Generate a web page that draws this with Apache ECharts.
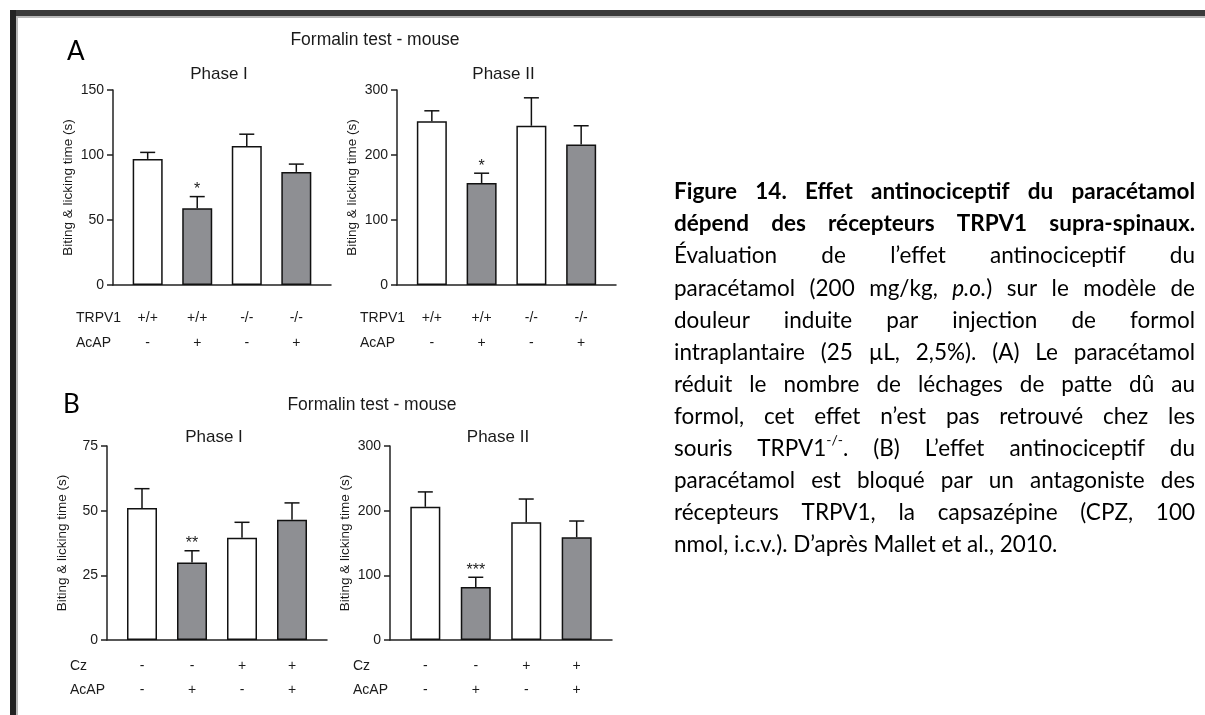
<!DOCTYPE html>
<html>
<head>
<meta charset="utf-8">
<script src="https://cdn.jsdelivr.net/npm/echarts@6/dist/echarts.min.js"></script>
<style>
  html, body { margin: 0; padding: 0; background: #fff; }
  #main { width: 1205px; height: 715px; }
</style>
</head>
<body>
<div id="main"></div>
<script>
// bar positions on the x axis (one per group)
const groups = [1, 2, 3, 4]

// A : TRPV1 +/+ and -/- mice
const aPhase1Mean = [97, 59, 107, 87]
const aPhase1Sem = [5, 9, 9, 6]
const aPhase1Stars = ['', '*', '', '']
const aPhase2Mean = [252, 157, 245, 216]
const aPhase2Sem = [16, 15, 43, 29]
const aPhase2Stars = ['', '*', '', '']
const trpv1Row = ['+/+', '+/+', '-/-', '-/-']
const acapRowA = ['-', '+', '-', '+']

// B : capsazepine (Cz)
const bPhase1Mean = [51, 30, 39.5, 46.5]
const bPhase1Sem = [7.5, 4.5, 6, 6.5]
const bPhase1Stars = ['', '**', '', '']
const bPhase2Mean = [206, 82, 182, 159]
const bPhase2Sem = [23, 15, 36, 25]
const bPhase2Stars = ['', '***', '', '']
const czRow = ['-', '-', '+', '+']
const acapRowB = ['-', '+', '-', '+']

// y axis ranges
const aPhase1Axis = { max: 150, step: 50 }
const aPhase2Axis = { max: 300, step: 100 }
const bPhase1Axis = { max: 75, step: 25 }
const bPhase2Axis = { max: 300, step: 100 }

const panelTitle = 'Formalin test - mouse'
const yName = 'Biting & licking time (s)'

const captionLines = [
  'Figure 14. Effet antinociceptif du paracétamol',
  'dépend des récepteurs TRPV1 supra-spinaux.',
  'Évaluation de l’effet antinociceptif du',
  'paracétamol (200 mg/kg, {i|p.o.}) sur le modèle de',
  'douleur induite par injection de formol',
  'intraplantaire (25 µL, 2,5%). (A) Le paracétamol',
  'réduit le nombre de léchages de patte dû au',
  'formol, cet effet n’est pas retrouvé chez les',
  'souris TRPV1{s|-/-}. (B) L’effet antinociceptif du',
  'paracétamol est bloqué par un antagoniste des',
  'récepteurs TRPV1, la capsazépine (CPZ, 100',
  'nmol, i.c.v.). D’après Mallet et al., 2010.'
]
const captionBoldLines = 2

const gray = '#8e8f93'
const fills = ['#ffffff', gray, '#ffffff', gray]
const ink = '#1a1a1a'
const chartFont = 'Liberation Sans'
const captionFont = 'Lato'

const rowsA = [['TRPV1', trpv1Row], ['AcAP', acapRowA]]
const rowsB = [['Cz', czRow], ['AcAP', acapRowB]]

const panels = [
  { grid: { left: 113, top: 90, width: 218, height: 195 }, axis: aPhase1Axis, mean: aPhase1Mean, sem: aPhase1Sem, stars: aPhase1Stars, rows: rowsA, rowY: [33, 58], phase: 'Phase I', phaseY: 74 },
  { grid: { left: 397, top: 90, width: 219, height: 195 }, axis: aPhase2Axis, mean: aPhase2Mean, sem: aPhase2Sem, stars: aPhase2Stars, rows: rowsA, rowY: [33, 58], phase: 'Phase II', phaseY: 74 },
  { grid: { left: 107, top: 446, width: 220, height: 194 }, axis: bPhase1Axis, mean: bPhase1Mean, sem: bPhase1Sem, stars: bPhase1Stars, rows: rowsB, rowY: [26, 50], phase: 'Phase I', phaseY: 437 },
  { grid: { left: 390, top: 446, width: 222, height: 194 }, axis: bPhase2Axis, mean: bPhase2Mean, sem: bPhase2Sem, stars: bPhase2Stars, rows: rowsB, rowY: [26, 50], phase: 'Phase II', phaseY: 437 }
]

const chart = echarts.init(document.getElementById('main'))

const grids = []
const xAxes = []
const yAxes = []
const series = []
const graphics = []

function txt(x, y, text, size, extra) {
  return {
    type: 'text', x: x, y: y,
    style: Object.assign({ text: text, fontSize: size, fontFamily: chartFont, fill: ink, align: 'left', verticalAlign: 'middle' }, extra || {})
  }
}

panels.forEach(function (p, i) {
  const lh = p.rowY[1] - p.rowY[0]
  grids.push(p.grid)
  xAxes.push({
    gridIndex: i,
    type: 'value',
    min: 0.3,
    max: 4.7,
    splitLine: { show: false },
    axisTick: { show: false },
    axisLine: { lineStyle: { color: '#222', width: 1.5 } },
    axisLabel: {
      customValues: groups,
      margin: p.rowY[0] - lh / 2,
      lineHeight: lh,
      fontSize: 14,
      fontFamily: chartFont,
      color: ink,
      formatter: function (v) {
        const k = Math.round(v) - 1
        return p.rows[0][1][k] + '\n' + p.rows[1][1][k]
      }
    }
  })
  yAxes.push({
    gridIndex: i,
    type: 'value',
    min: 0,
    max: p.axis.max,
    interval: p.axis.step,
    splitLine: { show: false },
    axisLine: { show: true, lineStyle: { color: '#222', width: 1.5 } },
    axisTick: { show: true, length: 6, lineStyle: { color: '#222', width: 1.5 } },
    axisLabel: { margin: 9, fontSize: 14, fontFamily: chartFont, color: ink },
    name: yName,
    nameLocation: 'middle',
    nameGap: 38,
    nameTextStyle: { fontSize: 13.5, fontFamily: chartFont, color: ink }
  })
  series.push({
    type: 'bar',
    xAxisIndex: i,
    yAxisIndex: i,
    barWidth: 30,
    data: groups.map(function (g, k) {
      return { value: [g, p.mean[k]], itemStyle: { color: fills[k] } }
    }),
    itemStyle: { borderColor: '#111', borderWidth: 1.5 },
    silent: true
  })
  series.push({
    type: 'custom',
    xAxisIndex: i,
    yAxisIndex: i,
    z: 3,
    data: groups.map(function (g, k) { return [g, p.mean[k], p.sem[k]] }),
    renderItem: function (params, api) {
      const x = api.value(0)
      const m = api.value(1)
      const e = api.value(2)
      const base = api.coord([x, m])
      const top = api.coord([x, m + e])
      const half = 7.5
      const line = { stroke: '#111', lineWidth: 1.5 }
      return {
        type: 'group',
        children: [
          { type: 'line', shape: { x1: base[0], y1: base[1], x2: top[0], y2: top[1] }, style: line },
          { type: 'line', shape: { x1: top[0] - half, y1: top[1], x2: top[0] + half, y2: top[1] }, style: line },
          { type: 'text', x: top[0], y: top[1] - 7, style: { text: p.stars[params.dataIndex], fontSize: 16, fontFamily: chartFont, fill: ink, align: 'center', verticalAlign: 'middle' } }
        ]
      }
    }
  })
  // phase title and row names
  graphics.push(txt(p.grid.left + p.grid.width / 2 - 3, p.phaseY, p.phase, 17, { align: 'center' }))
  const bottom = p.grid.top + p.grid.height
  graphics.push(txt(p.grid.left - 37, bottom + p.rowY[0], p.rows[0][0], 14))
  graphics.push(txt(p.grid.left - 37, bottom + p.rowY[1], p.rows[1][0], 14))
})

// panel letters and titles
graphics.push(txt(67, 52, 'A', 26, { fontFamily: captionFont, fill: '#000' }))
graphics.push(txt(63, 405, 'B', 26, { fontFamily: captionFont, fill: '#000' }))
graphics.push(txt(375, 40, panelTitle, 17.5, { align: 'center' }))
graphics.push(txt(372, 405, panelTitle, 17.5, { align: 'center' }))

// page frame
graphics.push({ type: 'rect', shape: { x: 10, y: 10, width: 1195, height: 6 }, style: { fill: '#3a3a3a' } })
graphics.push({ type: 'rect', shape: { x: 16, y: 16, width: 1189, height: 2 }, style: { fill: '#b8b8b8' } })
graphics.push({ type: 'rect', shape: { x: 10, y: 10, width: 6, height: 705 }, style: { fill: '#222' } })
graphics.push({ type: 'rect', shape: { x: 16, y: 16, width: 2, height: 699 }, style: { fill: '#b8b8b8' } })

// caption, justified line by line
const capLeft = 674
const capRight = 1195
const capTop = 192
const capGap = 32.1
const capSize = 22.5
const measure = document.createElement('canvas').getContext('2d')

function parseWord(word, bold) {
  const segs = []
  const re = /\{(\w)\|([^}]*)\}/g
  let last = 0
  let m
  function add(t, kind) {
    if (!t) return
    const s = { t: t, size: capSize, weight: bold ? 'bold' : 'normal', style: 'normal', dy: 0 }
    if (kind === 'i') s.style = 'italic'
    if (kind === 's') { s.size = 14; s.dy = -8 }
    segs.push(s)
  }
  while ((m = re.exec(word)) !== null) {
    add(word.slice(last, m.index), '')
    add(m[2], m[1])
    last = re.lastIndex
  }
  add(word.slice(last), '')
  return segs
}

function segWidth(s) {
  measure.font = s.style + ' ' + s.weight + ' ' + s.size + 'px ' + captionFont
  return measure.measureText(s.t).width
}

captionLines.forEach(function (line, k) {
  const bold = k < captionBoldLines
  const words = line.split(' ').map(function (w) { return parseWord(w, bold) })
  const widths = words.map(function (w) { return w.reduce(function (a, s) { return a + segWidth(s) }, 0) })
  const total = widths.reduce(function (a, b) { return a + b }, 0)
  const space = segWidth({ t: ' ', size: capSize, weight: 'normal', style: 'normal' })
  const isLast = k === captionLines.length - 1
  const gap = isLast ? space : Math.max(space * 0.7, (capRight - capLeft - total) / (words.length - 1))
  const y = capTop + k * capGap
  let x = capLeft
  words.forEach(function (w, j) {
    let cx = x
    w.forEach(function (s) {
      graphics.push({
        type: 'text', x: cx, y: y + s.dy,
        style: { text: s.t, fontSize: s.size, fontWeight: s.weight, fontStyle: s.style, fontFamily: captionFont, fill: '#000', verticalAlign: 'middle' }
      })
      cx += segWidth(s)
    })
    x += widths[j] + gap
  })
})

chart.setOption({
  animation: false,
  backgroundColor: '#ffffff',
  grid: grids,
  xAxis: xAxes,
  yAxis: yAxes,
  series: series,
  graphic: { elements: graphics }
})
</script>
</body>
</html>
